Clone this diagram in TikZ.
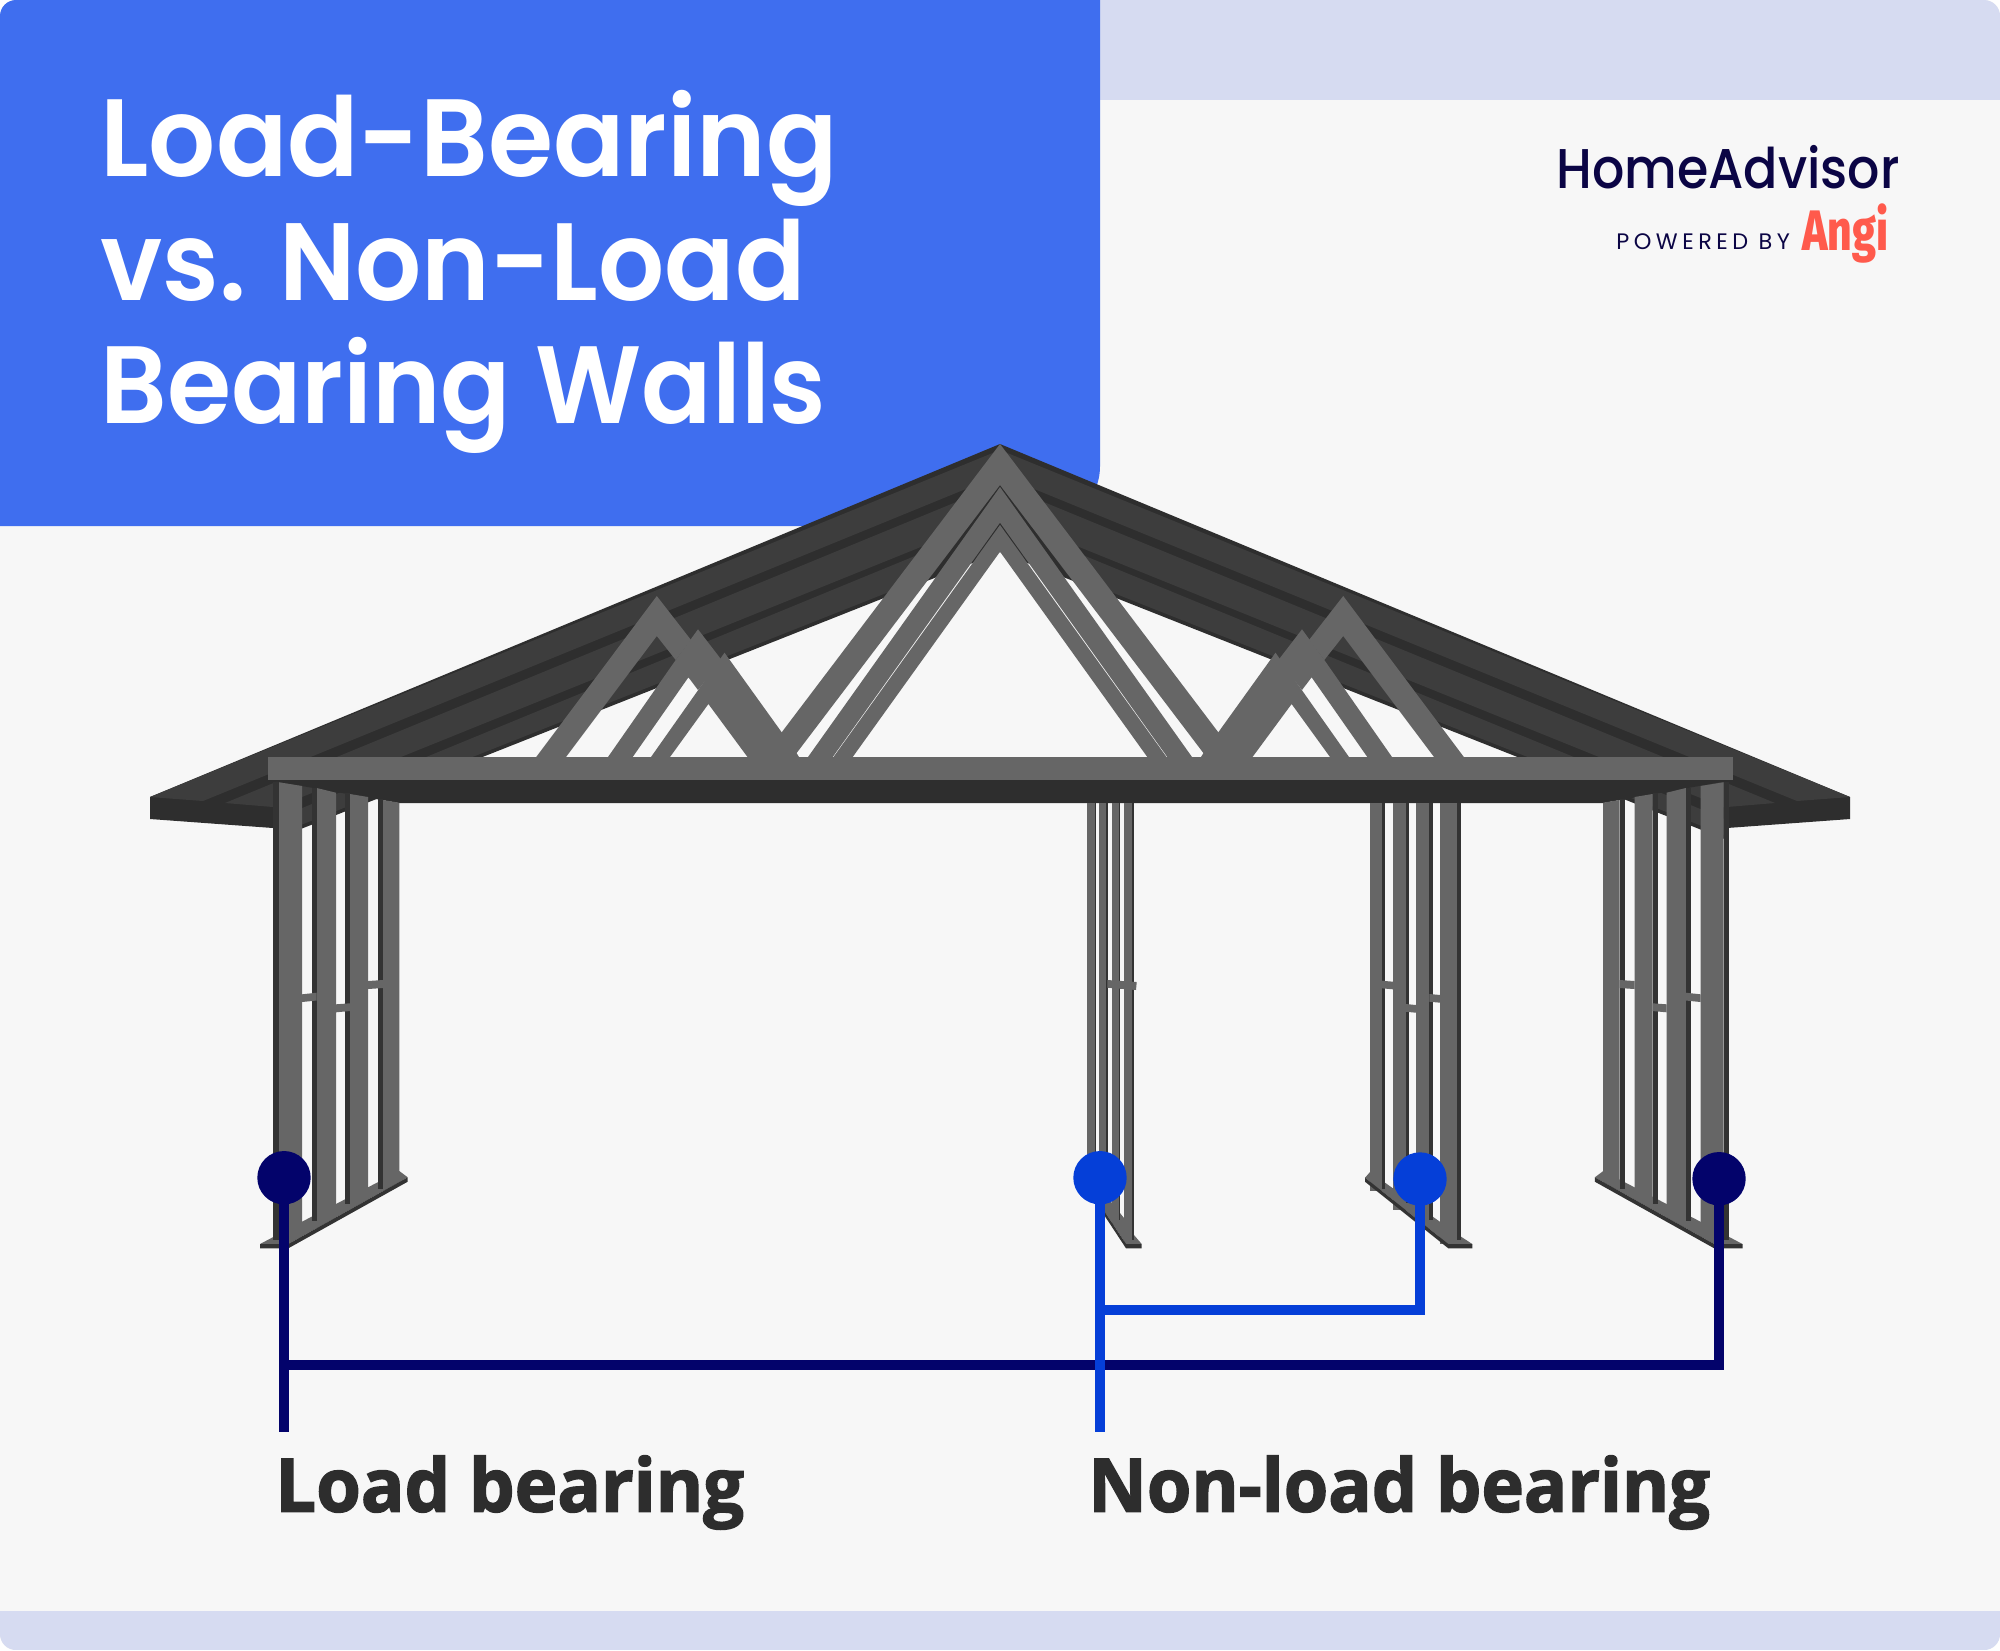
\documentclass[tikz,border=0pt]{standalone}
\usepackage{fontspec}
\setmainfont{Poppins}
\newfontfamily\labelfont{Open Sans}[BoldFeatures={FakeBold=2}]
\newfontfamily\angifont{Fira Sans ExtraBold}
\newfontfamily\titlefont{Poppins SemiBold}
\newfontfamily\logofont{Poppins Medium}
\newfontfamily\pwfont{Poppins}[LetterSpace=20]
\definecolor{bgc}{HTML}{F7F7F7}
\definecolor{bandc}{HTML}{D6DBF1}
\definecolor{bluep}{HTML}{3F6EEF}
\definecolor{roofl}{HTML}{3D3D3D}
\definecolor{roofd}{HTML}{2E2E2E}
\definecolor{stud}{HTML}{666666}
\definecolor{studd}{HTML}{333333}
\definecolor{navyc}{HTML}{03036B}
\definecolor{bluec}{HTML}{053FD8}
\definecolor{txtc}{HTML}{2D2D2D}
\definecolor{logoc}{HTML}{0B0545}
\definecolor{angic}{HTML}{FF5A4C}
\tikzset{
  lt/.style={fill=roofl},
  dk/.style={fill=roofd},
  st/.style={fill=stud},
  sd/.style={fill=studd},
  navyln/.style={draw=navyc,line width=5pt},
  blueln/.style={draw=bluec,line width=5pt},
  navydot/.style={circle,fill=navyc,minimum size=26.7pt,inner sep=0pt},
  bluedot/.style={circle,fill=bluec,minimum size=26.7pt,inner sep=0pt},
  titletxt/.style={anchor=base west,inner sep=0pt,text=white,font=\titlefont\fontsize{55pt}{55pt}\selectfont},
  lbl/.style={anchor=base west,inner sep=0pt,text=txtc,font=\labelfont\bfseries\fontsize{37pt}{37pt}\selectfont},
}
\newcommand{\halfroof}{%
  \fill[dk] (1000,444) -- (150,797) -- (150,819) -- (273,828) -- (273,840) -- (1000,552) -- cycle;
  \fill[lt] (150,797) -- (203,801) -- (1000,475) -- (1000,450) -- cycle;
  \fill[lt] (225,803) -- (273,807) -- (273,808.7) -- (1000,515) -- (1000,484) -- cycle;
  \fill[lt] (273,820) -- (1000,521) -- (1000,548) -- (273,836) -- cycle;
  \fill[dk] (1000,485) -- (930,578) -- (972,563) -- (1000,525) -- cycle;
}
\newcommand{\halftruss}{%
  \fill[st] (1000,444) -- (763,757) -- (793.6,757) -- (1000,485) -- cycle;
  \fill[st] (1000,487) -- (808,757) -- (832.7,757) -- (1000,522.7) -- cycle;
  \fill[st] (1000,525) -- (833.5,757) -- (852.7,757) -- (1000,551.7) -- cycle;
  \fill[st] (536.2,757) -- (656.8,596) -- (691,640) -- (675.7,660) -- (656.8,636) -- (566,757) -- cycle;
  \fill[st] (608,757) -- (675.7,660) -- (698,629.3) -- (721.6,660) -- (698,690) -- (688.4,677.3) -- (632.7,757) -- cycle;
  \fill[st] (651,757) -- (724.5,652.7) -- (782,732.7) -- (796.7,753.3) -- (799,757) -- (747.5,757) -- (708.4,704) -- (670,757) -- cycle;
}
\newcommand{\sidewall}{%
  \fill[st] (273.3,1240) -- (302,1221.7) -- (399.3,1171) -- (407.7,1177.3) -- (288.3,1244) -- (260,1244) -- (273.3,1237) -- cycle;
  \fill[st] (279,782.3) -- (302,786) -- (302,1236) -- (279,1246) -- cycle;
  \fill[st] (316.7,788) -- (336,792.7) -- (336,1217) -- (316.7,1228) -- cycle;
  \fill[st] (350,794) -- (368,797) -- (368,1199) -- (350,1209) -- cycle;
  \fill[st] (383,800) -- (399.3,802.7) -- (399.3,1182) -- (383,1191) -- cycle;
  \fill[sd] (273.3,782) rectangle (279,1240);
  \fill[sd] (311.7,788) rectangle (316.7,1220.7);
  \fill[sd] (345,793) rectangle (350,1204);
  \fill[sd] (378,799) rectangle (383,1189);
  \fill[st] (302,994.3) -- (316.7,992.7) -- (316.7,1000.5) -- (302,1002) -- cycle;
  \fill[st] (336,1004.3) -- (350,1003.3) -- (350,1011) -- (336,1012.3) -- cycle;
  \fill[st] (368,981) -- (383,980) -- (383,988) -- (368,989) -- cycle;
  \fill[studd] (260,1244) -- (288.3,1244) -- (407.7,1177.3) -- (407.7,1181.7) -- (288.3,1248.3) -- (260,1248.3) -- cycle;
}
\begin{document}
\begin{tikzpicture}[x=0.5pt,y=-0.5pt]
\useasboundingbox (0,0) rectangle (2000,1650);
\fill[white] (0,0) rectangle (2000,1650);
\begin{scope}
\clip[rounded corners=8pt] (0,0) rectangle (2000,1650);
\fill[bgc] (0,0) rectangle (2000,1650);
\fill[bandc] (1000,0) rectangle (2000,100);
\fill[bandc] (0,1611) rectangle (2000,1650);
\fill[bluep,rounded corners=30pt] (-100,-100) rectangle (1100,526);
\end{scope}
% title and logo
\node[titletxt] (t1) at (100,176) {\scalebox{.958}[1]{Load-Bearing}};
\node[titletxt] (t2) at (100,300) {\scalebox{.944}[1]{vs. Non-Load}};
\node[titletxt] (t3) at (100,423.5) {\scalebox{.943}[1]{Bearing Walls}};
\node[anchor=base west,inner sep=0pt,text=logoc,font=\logofont\fontsize{28pt}{28pt}\selectfont] (logoa) at (1556,188) {\scalebox{.905}[1]{HomeAdvisor}};
\node[anchor=base west,inner sep=0pt,text=logoc,font=\pwfont\fontsize{11.2pt}{11.2pt}\selectfont] (logob) at (1616,249) {POWERED BY};
\node[anchor=base west,inner sep=0pt,text=angic,font=\angifont\fontsize{28.5pt}{28.5pt}\selectfont] (logoc) at (1802,250) {\scalebox{.75}[1]{Angi}};
% roof
\halfroof
\begin{scope}[shift={(2000,0)},xscale=-1]\halfroof\end{scope}
% trusses
\halftruss
\begin{scope}[shift={(2000,0)},xscale=-1]\halftruss\end{scope}
% beam
\fill[dk] (267.6,780) -- (1733,780) -- (1603,803) -- (399,803) -- cycle;
\fill[st] (267.6,757) rectangle (1733,780);
% centre back wall
\fill[st] (1087,1172) -- (1124,1218) -- (1134,1235) -- (1141.7,1244) -- (1126,1244) -- (1087,1185) -- cycle;
\fill[st] (1087.3,803) rectangle (1094.7,1187);
\fill[st] (1099.3,803) rectangle (1106,1205);
\fill[st] (1111.7,803) rectangle (1119,1225);
\fill[st] (1124,803) rectangle (1132.3,1244);
\fill[sd] (1094.7,803) rectangle (1096,1175);
\fill[sd] (1106,803) rectangle (1107.7,1195);
\fill[sd] (1119,803) rectangle (1120.3,1220);
\fill[sd] (1132.3,803) rectangle (1134,1240);
\fill[st] (1107.3,980) -- (1136.7,982) -- (1136,990) -- (1107.3,987.7) -- cycle;
\fill[studd] (1087,1185) -- (1126,1244) -- (1141.7,1244) -- (1141.7,1248.3) -- (1126,1248.3) -- (1087,1189) -- cycle;
% right back wall
\fill[st] (1370,1172) -- (1460,1236) -- (1472.3,1244) -- (1448.3,1244) -- (1365,1177.7) -- cycle;
\fill[st] (1370.3,803) rectangle (1381.7,1191);
\fill[st] (1393,803) rectangle (1405.7,1210);
\fill[st] (1416,803) rectangle (1429.3,1228);
\fill[st] (1440.3,803) rectangle (1456.7,1244);
\fill[sd] (1381.7,803) rectangle (1385.3,1189);
\fill[sd] (1405.7,803) rectangle (1409.3,1203);
\fill[sd] (1429.3,803) rectangle (1433.3,1220);
\fill[sd] (1456.7,803) rectangle (1460.7,1240);
\fill[st] (1381.7,980.7) -- (1393,981.7) -- (1393,989.3) -- (1381.7,988.3) -- cycle;
\fill[st] (1405.7,1004) -- (1416,1005) -- (1416,1012.7) -- (1405.7,1011.7) -- cycle;
\fill[st] (1429.3,994) -- (1440.3,995) -- (1440.3,1002.7) -- (1429.3,1001.7) -- cycle;
\fill[studd] (1365,1177.7) -- (1448.3,1244) -- (1472.3,1244) -- (1472.3,1248.3) -- (1448.3,1248.3) -- (1365,1181.7) -- cycle;
% side walls
\sidewall
\begin{scope}[shift={(2002.5,0)},xscale=-1]\sidewall\end{scope}
% connectors
\node[navydot] (ld1) at (284,1177.7) {};
\node[navydot] (ld2) at (1719,1178.7) {};
\node[bluedot] (nd1) at (1100,1177.7) {};
\node[bluedot] (nd2) at (1420,1179) {};
\coordinate (lend) at (284,1431.7);
\coordinate (ljoin) at (284,1365);
\coordinate (nend) at (1100,1431.7);
\coordinate (njoin) at (1100,1310);
\draw[navyln] (ld1.center) -- (lend);
\draw[navyln] (ljoin) -| (ld2.center);
\draw[blueln] (nd1.center) -- (nend);
\draw[blueln] (njoin) -| (nd2.center);
% labels
\node[lbl] (la) at (275,1511.7) {\scalebox{.976}[1]{Load bearing}};
\node[lbl] (lb) at (1088,1511.7) {\scalebox{.972}[1]{Non-load bearing}};
\end{tikzpicture}
\end{document}
